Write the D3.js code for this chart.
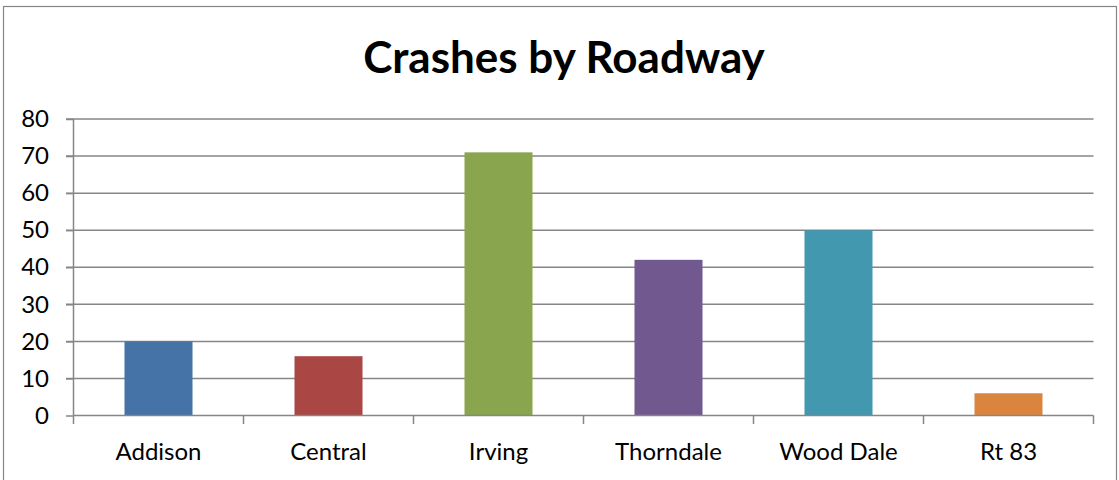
<!DOCTYPE html>
<html><head><meta charset="utf-8">
<script src="https://cdn.jsdelivr.net/npm/d3@7"></script>
<style>body{margin:0;background:#fff}svg{display:block}</style>
</head><body><svg id="c" width="1119" height="480"></svg>
<script>
const categories = ["Addison","Central","Irving","Thorndale","Wood Dale","Rt 83"];
const values = [20,16,71,42,50,6];
const colors = ["#4572A7","#AA4643","#89A54E","#71588F","#4198AF","#DB843D"];
const yTicks = [0,10,20,30,40,50,60,70,80];
const title = "Crashes by Roadway";

const svg = d3.select("#c");
const font = "Lato, 'Open Sans', sans-serif";
svg.append("rect").attr("x",3.5).attr("y",6.5).attr("width",1113).attr("height",480)
  .attr("fill","#fff").attr("stroke","#868686").attr("stroke-width",1.2);
svg.append("text").attr("x",564).attr("y",73).attr("text-anchor","middle")
  .attr("font-family",font).attr("font-weight","bold").attr("font-size",44).attr("fill","#000").text(title);

const x = d3.scaleBand().domain(categories).range([73.5,1093.5]).paddingInner(0.6).paddingOuter(0.3);
const xb = d3.scaleBand().domain(categories).range([73.5,1093.5]);
const y = d3.scaleLinear().domain([0,80]).range([415.5,119]);

// gridlines
svg.append("g").selectAll("line").data(yTicks.filter(d=>d>0)).join("line")
  .attr("x1",66).attr("x2",1093.5).attr("y1",d=>y(d)).attr("y2",d=>y(d))
  .attr("stroke","#868686").attr("stroke-width",1.5);
// y axis
const ya = svg.append("g").attr("transform","translate(73.5,0)")
  .call(d3.axisLeft(y).tickValues(yTicks).tickSize(7.5).tickPadding(17));
ya.select(".domain").attr("stroke","#868686").attr("stroke-width",1.5).attr("d","M0,415.5V119");
ya.selectAll(".tick line").attr("stroke","#868686").attr("stroke-width",1.5);
ya.selectAll("text").attr("font-family",font).attr("font-size",24).attr("fill","#000");

// bars
svg.append("g").selectAll("rect").data(values).join("rect")
  .attr("x",(d,i)=>x(categories[i])).attr("width",x.bandwidth())
  .attr("y",d=>y(d)).attr("height",d=>y(0)-y(d)).attr("fill",(d,i)=>colors[i]);

// x axis
const xa = svg.append("g").attr("transform","translate(0,415.5)")
  .call(d3.axisBottom(xb).tickSize(0).tickPadding(27.5));
xa.select(".domain").attr("stroke","#868686").attr("stroke-width",1.5).attr("d","M73.5,0H1093.5");
xa.selectAll("text").attr("font-family",font).attr("font-size",24).attr("fill","#000");
const bounds = categories.map(c=>xb(c)).concat([1093.5]);
svg.append("g").selectAll("line").data(bounds).join("line")
  .attr("x1",d=>d).attr("x2",d=>d).attr("y1",415.5).attr("y2",424)
  .attr("stroke","#868686").attr("stroke-width",1.5);
</script></body></html>
